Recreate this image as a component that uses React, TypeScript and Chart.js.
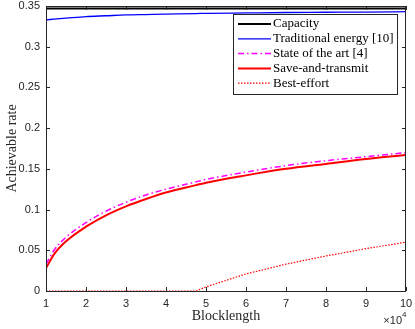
import React, { useEffect, useRef } from "react";
import { Chart, registerables } from "chart.js";

Chart.register(...registerables);

const xValues = [1, 1.2, 1.5, 2, 2.5, 3, 3.5, 4, 4.75, 5, 6, 7, 8, 9, 10];
const capacity = [0.347, 0.347, 0.347, 0.347, 0.347, 0.347, 0.347, 0.347, 0.347, 0.347, 0.347, 0.347, 0.347, 0.347, 0.347];
const traditional = [0.333, 0.3338, 0.335, 0.337, 0.338, 0.339, 0.3395, 0.34, 0.3407, 0.341, 0.3415, 0.342, 0.3423, 0.3426, 0.343];
const stateOfArt = [0.033, 0.05, 0.066, 0.084, 0.098, 0.109, 0.118, 0.125, 0.134, 0.137, 0.146, 0.154, 0.16, 0.165, 0.17];
const saveTransmit = [0.028, 0.045, 0.061, 0.079, 0.093, 0.104, 0.113, 0.121, 0.13, 0.133, 0.142, 0.15, 0.156, 0.162, 0.167];
const bestEffort = [0, 0, 0, 0, 0, 0, 0, 0, 0, 0.005, 0.021, 0.033, 0.043, 0.052, 0.06];

const seriesLabels = ["Capacity", "Traditional energy [10]", "State of the art [4]", "Save-and-transmit", "Best-effort"];
const yTicks = [0, 0.05, 0.1, 0.15, 0.2, 0.25, 0.3, 0.35];
const xTicks = [1, 2, 3, 4, 5, 6, 7, 8, 9, 10];
const xTitle = "Blocklength";
const yTitle = "Achievable rate";

const AXIS = "#262626";
const SERIF = "'Liberation Serif', 'DejaVu Serif', serif";
const SANS = "'Liberation Sans', Arial, sans-serif";

function pts(vals: number[]) {
  return xValues.map((x, i) => ({ x, y: vals[i] }));
}

const boxPlugin = {
  id: "matlabBox",
  afterDraw(chart: any) {
    const { ctx, chartArea } = chart;
    const { left, right, top, bottom } = chartArea;
    const xs = chart.scales.x;
    const ys = chart.scales.y;
    ctx.save();
    ctx.strokeStyle = AXIS;
    ctx.lineWidth = 1;
    ctx.setLineDash([]);
    ctx.strokeRect(left + 0.5, top + 0.5, right - left - 1, bottom - top);
    const tl = 4;
    ctx.beginPath();
    xTicks.forEach((v) => {
      const px = Math.round(xs.getPixelForValue(v)) + 0.5;
      ctx.moveTo(px, bottom);
      ctx.lineTo(px, bottom - tl);
      ctx.moveTo(px, top);
      ctx.lineTo(px, top + tl);
    });
    yTicks.forEach((v) => {
      const py = Math.round(ys.getPixelForValue(v)) + 0.5;
      ctx.moveTo(left, py);
      ctx.lineTo(left + tl, py);
      ctx.moveTo(right, py);
      ctx.lineTo(right - tl, py);
    });
    ctx.stroke();

    // axis titles
    ctx.fillStyle = AXIS;
    ctx.font = `14px ${SERIF}`;
    ctx.textAlign = "center";
    ctx.textBaseline = "middle";
    ctx.fillText(xTitle, (left + right) / 2, 316);
    ctx.save();
    ctx.translate(12, (top + bottom) / 2);
    ctx.rotate(-Math.PI / 2);
    ctx.fillText(yTitle, 0, 0);
    ctx.restore();

    // exponent
    ctx.font = `11px ${SANS}`;
    ctx.textAlign = "right";
    ctx.fillText("\u00d710", 402, 321);
    ctx.font = `8px ${SANS}`;
    ctx.textAlign = "left";
    ctx.fillText("4", 402, 315);

    // legend
    const lx = 233.5, ly = 14.5, lw = 164, lh = 80;
    ctx.fillStyle = "#ffffff";
    ctx.fillRect(lx, ly, lw, lh);
    ctx.strokeStyle = AXIS;
    ctx.lineWidth = 1;
    ctx.strokeRect(lx, ly, lw, lh);
    chart.data.datasets.forEach((ds: any, i: number) => {
      const y = 24 + i * 14.8;
      ctx.strokeStyle = ds.borderColor;
      ctx.lineWidth = ds.borderWidth;
      ctx.setLineDash(ds.borderDash || []);
      ctx.beginPath();
      ctx.moveTo(238, y);
      ctx.lineTo(271, y);
      ctx.stroke();
      ctx.setLineDash([]);
      ctx.fillStyle = "#000";
      ctx.font = `13px ${SERIF}`;
      ctx.textAlign = "left";
      ctx.textBaseline = "middle";
      ctx.fillText(ds.label, 273, y);
    });
    ctx.restore();
  },
};

export default function App() {
  const ref = useRef<HTMLCanvasElement>(null);
  useEffect(() => {
    document.body.style.margin = "0";
    const chart = new Chart(ref.current as HTMLCanvasElement, {
      type: "line",
      data: {
        datasets: [
          { label: seriesLabels[0], data: pts(capacity), borderColor: "#000000", borderWidth: 2, pointRadius: 0, tension: 0 },
          { label: seriesLabels[1], data: pts(traditional), borderColor: "#0000ff", borderWidth: 1.3, pointRadius: 0, cubicInterpolationMode: "monotone" },
          { label: seriesLabels[2], data: pts(stateOfArt), borderColor: "#ff00ff", borderWidth: 1.5, borderDash: [6, 3, 1.5, 3], pointRadius: 0, cubicInterpolationMode: "monotone" },
          { label: seriesLabels[3], data: pts(saveTransmit), borderColor: "#ff0000", borderWidth: 2, pointRadius: 0, cubicInterpolationMode: "monotone" },
          { label: seriesLabels[4], data: pts(bestEffort), borderColor: "#ff0000", borderWidth: 1.2, borderDash: [1.5, 1.5], pointRadius: 0, tension: 0 },
        ] as any,
      },
      options: {
        animation: false,
        responsive: false,
        layout: { padding: { top: 0, right: 0, left: 0, bottom: 0 } },
        plugins: { legend: { display: false }, tooltip: { enabled: false } },
        scales: {
          x: {
            type: "linear",
            min: 1,
            max: 10,
            afterFit: (s: any) => { s.height = 38; s.paddingRight = 9; s.paddingLeft = 0; },
            afterBuildTicks: (s: any) => { s.ticks = xTicks.map((v) => ({ value: v })); },
            grid: { display: false, drawTicks: false },
            border: { display: false },
            ticks: { color: AXIS, font: { family: SANS, size: 11 }, padding: 6, maxRotation: 0, callback: (v: any) => String(v) },
          },
          y: {
            type: "linear",
            min: 0,
            max: 0.35,
            afterFit: (s: any) => { s.width = 46; s.paddingTop = 6; s.paddingBottom = 0; },
            afterBuildTicks: (s: any) => { s.ticks = yTicks.map((v) => ({ value: v })); },
            grid: { display: false, drawTicks: false },
            border: { display: false },
            ticks: { color: AXIS, font: { family: SANS, size: 11 }, padding: 6, callback: (v: any) => String(Math.round(v * 100) / 100) },
          },
        },
      } as any,
      plugins: [boxPlugin],
    });
    return () => chart.destroy();
  }, []);
  return (
    <div style={{ position: "absolute", left: 0, top: 0, width: 415, height: 329 }}>
      <canvas ref={ref} width={415} height={329} style={{ width: 415, height: 329 }} />
    </div>
  );
}
